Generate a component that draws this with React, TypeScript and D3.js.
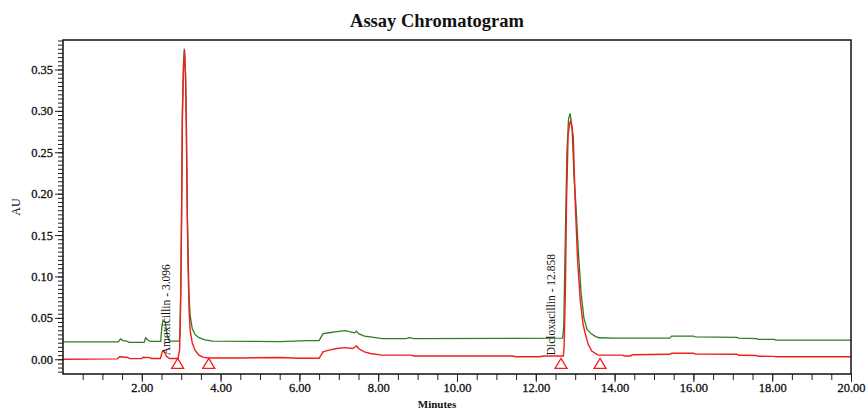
import React, { useEffect, useRef } from 'react'
import * as d3 from 'd3'

// retention times (min) and absorbance (AU)
const redTrace: [number, number][] = [
  [0, 0.0], [1.38, 0.0005], [1.44, 0.003], [1.5, 0.0028], [1.64, 0.0022], [1.7, 0.0008],
  [2.0, 0.0008], [2.04, 0.0025], [2.2, 0.002], [2.24, 0.001], [2.47, 0.001], [2.52, 0.009],
  [2.56, 0.0105], [2.62, 0.004], [2.7, 0.001], [2.92, 0.001], [2.96, 0.012], [2.99, 0.08],
  [3.01, 0.17], [3.03, 0.29], [3.06, 0.355], [3.085, 0.373], [3.11, 0.34], [3.13, 0.28],
  [3.155, 0.17], [3.18, 0.1], [3.2, 0.058], [3.23, 0.034], [3.28, 0.02], [3.35, 0.011],
  [3.45, 0.005], [3.55, 0.0025], [3.7, 0.0015], [4.5, 0.0015], [5.5, 0.0022], [6.0, 0.0012],
  [6.5, 0.0012], [6.6, 0.009], [6.75, 0.011], [6.95, 0.013], [7.16, 0.014], [7.35, 0.013],
  [7.45, 0.016], [7.5, 0.013], [7.65, 0.009], [7.8, 0.007], [8.1, 0.005], [8.85, 0.005],
  [8.9, 0.004], [11.4, 0.004], [11.5, 0.003], [12.1, 0.003], [12.2, 0.004], [12.7, 0.004],
  [12.72, 0.017], [12.75, 0.08], [12.78, 0.19], [12.82, 0.27], [12.86, 0.285], [12.89, 0.288],
  [12.95, 0.27], [13.0, 0.19], [13.06, 0.12], [13.13, 0.07], [13.2, 0.042], [13.25, 0.032],
  [13.33, 0.018], [13.42, 0.01], [13.58, 0.005], [14.2, 0.005], [14.25, 0.004], [14.4, 0.004],
  [14.45, 0.0055], [15.4, 0.006], [15.45, 0.0072], [16.0, 0.0072], [16.05, 0.0062],
  [17.1, 0.006], [17.15, 0.0048], [17.6, 0.0045], [17.65, 0.0036], [18.05, 0.0035],
  [18.1, 0.003], [20, 0.003],
]

const greenTrace: [number, number][] = [
  [0, 0.021], [1.4, 0.021], [1.46, 0.0245], [1.52, 0.0225], [1.62, 0.022], [1.68, 0.0205],
  [2.06, 0.0205], [2.1, 0.026], [2.16, 0.023], [2.22, 0.0215], [2.48, 0.0215], [2.51, 0.04],
  [2.54, 0.047], [2.6, 0.044], [2.64, 0.03], [2.7, 0.022], [2.95, 0.022], [2.97, 0.03],
  [2.99, 0.09], [3.01, 0.18], [3.03, 0.3], [3.06, 0.36], [3.08, 0.375], [3.11, 0.345],
  [3.13, 0.29], [3.155, 0.18], [3.18, 0.115], [3.2, 0.075], [3.23, 0.052], [3.28, 0.037],
  [3.35, 0.03], [3.45, 0.026], [3.6, 0.0235], [3.8, 0.022], [5.5, 0.0213], [6.2, 0.0225],
  [6.5, 0.0225], [6.6, 0.031], [6.75, 0.032], [6.95, 0.0335], [7.16, 0.0345], [7.4, 0.032],
  [7.45, 0.034], [7.5, 0.031], [7.65, 0.028], [7.8, 0.027], [8.1, 0.025], [8.7, 0.025],
  [8.8, 0.026], [8.9, 0.025], [12.68, 0.0255], [12.71, 0.04], [12.75, 0.15], [12.79, 0.25],
  [12.83, 0.29], [12.87, 0.297], [12.92, 0.28], [12.97, 0.22], [13.02, 0.185], [13.08, 0.13],
  [13.15, 0.08], [13.22, 0.05], [13.3, 0.036], [13.4, 0.031], [13.5, 0.028], [13.6, 0.026],
  [14.0, 0.0255], [15.4, 0.0255], [15.45, 0.028], [16.0, 0.028], [16.05, 0.027],
  [17.1, 0.0265], [17.15, 0.0255], [17.6, 0.025], [17.65, 0.024], [18.05, 0.024],
  [18.1, 0.023], [20, 0.023],
]

const peakNames = ['Amoxicillin - 3.096', 'Dicloxacillin - 12.858']
const peakTimes = [3.096, 12.858]
const baselineMarks = [2.91, 3.7, 12.64, 13.63]

const xTickLabels = [2, 4, 6, 8, 10, 12, 14, 16, 18, 20]
const yTickLabels = [0, 0.05, 0.1, 0.15, 0.2, 0.25, 0.3, 0.35]

export default function App() {
  const ref = useRef<SVGSVGElement>(null)

  useEffect(() => {
    const width = 868
    const height = 411
    const m = { left: 63, right: 17, top: 40, bottom: 37 }
    const font = '"Liberation Serif", "Times New Roman", serif'

    const svg = d3.select(ref.current)
    svg.selectAll('*').remove()

    const x = d3.scaleLinear().domain([0, 20]).range([m.left, width - m.right])
    const y = d3.scaleLinear().domain([-0.0178, 0.3856]).range([height - m.bottom, m.top])

    svg.append('rect').attr('width', width).attr('height', height).attr('fill', '#fff')

    // title
    svg.append('text')
      .attr('x', 437).attr('y', 27)
      .attr('text-anchor', 'middle')
      .attr('font-family', font).attr('font-weight', 'bold').attr('font-size', 18.5)
      .attr('fill', '#111')
      .text('Assay Chromatogram')

    // y axis: minor ticks every 0.005
    const yMinor = d3.range(-0.015, 0.3851, 0.005)
    svg.append('g')
      .attr('transform', `translate(${m.left},0)`)
      .call(d3.axisLeft(y).tickValues(yMinor).tickSize(5).tickFormat(() => ''))
      .call(g => g.select('.domain').remove())
      .selectAll('line').attr('stroke', '#222')
    svg.append('g')
      .attr('transform', `translate(${m.left},0)`)
      .call(d3.axisLeft(y).tickValues(yTickLabels).tickSize(8).tickPadding(2).tickFormat(d3.format('.2f')))
      .call(g => g.select('.domain').remove())
      .call(g => g.selectAll('line').attr('stroke', '#222'))
      .call(g => g.selectAll('text')
        .attr('font-family', font).attr('font-size', 12.5).attr('fill', '#111')
        .attr('stroke', '#111').attr('stroke-width', 0.3))

    // x axis: minor ticks every 0.5 min
    const xMinor = d3.range(0.5, 20.01, 0.5)
    svg.append('g')
      .attr('transform', `translate(0,${height - m.bottom})`)
      .call(d3.axisBottom(x).tickValues(xMinor).tickSize(6).tickFormat(() => ''))
      .call(g => g.select('.domain').remove())
      .selectAll('line').attr('stroke', '#222')
    svg.append('g')
      .attr('transform', `translate(0,${height - m.bottom})`)
      .call(d3.axisBottom(x).tickValues(xTickLabels).tickSize(8).tickPadding(1).tickFormat(d3.format('.2f')))
      .call(g => g.select('.domain').remove())
      .call(g => g.selectAll('line').attr('stroke', '#222'))
      .call(g => g.selectAll('text')
        .attr('font-family', font).attr('font-size', 12.5).attr('fill', '#111')
        .attr('stroke', '#111').attr('stroke-width', 0.3))

    // axis titles
    svg.append('text')
      .attr('x', 437).attr('y', 408)
      .attr('text-anchor', 'middle')
      .attr('font-family', font).attr('font-weight', 'bold').attr('font-size', 11)
      .attr('fill', '#111')
      .text('Minutes')
    svg.append('text')
      .attr('transform', `translate(20,${(m.top + height - m.bottom) / 2}) rotate(-90)`)
      .attr('text-anchor', 'middle')
      .attr('font-family', font).attr('font-size', 12)
      .attr('fill', '#111')
      .text('AU')

    const line = d3.line<[number, number]>()
      .x(d => x(d[0]))
      .y(d => y(d[1]))

    svg.append('path')
      .datum(greenTrace)
      .attr('fill', 'none')
      .attr('stroke', '#2f7d22')
      .attr('stroke-width', 1.3)
      .attr('d', line)

    svg.append('path')
      .datum(redTrace)
      .attr('fill', 'none')
      .attr('stroke', '#f21d1d')
      .attr('stroke-width', 1.4)
      .attr('d', line)

    // baseline markers
    const triTop = y(0.001)
    svg.append('g')
      .selectAll('path')
      .data(baselineMarks)
      .join('path')
      .attr('d', t => `M${x(t)},${triTop}L${x(t) + 6},${triTop + 10}L${x(t) - 6},${triTop + 10}Z`)
      .attr('fill', 'none')
      .attr('stroke', '#f21d1d')
      .attr('stroke-width', 1.3)

    // peak labels
    svg.append('g')
      .selectAll('text')
      .data(peakTimes)
      .join('text')
      .attr('transform', t => `translate(${x(t) - 15},${y(0) - 4}) rotate(-90)`)
      .attr('font-family', font).attr('font-size', 11.5)
      .attr('fill', '#111')
      .text((_, i) => peakNames[i])

    // frame
    svg.append('rect')
      .attr('x', m.left).attr('y', m.top)
      .attr('width', width - m.left - m.right)
      .attr('height', height - m.top - m.bottom)
      .attr('fill', 'none')
      .attr('stroke', '#111')
      .attr('stroke-width', 1.5)
  }, [])

  return (
    <svg ref={ref} width={868} height={411}
      style={{ position: 'absolute', left: 0, top: 0, display: 'block' }} />
  )
}
